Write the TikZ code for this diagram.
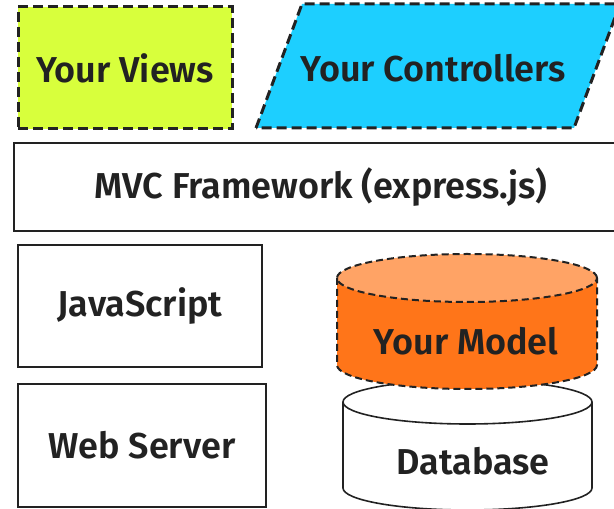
\documentclass[tikz,border=0pt]{standalone}
\usepackage{fontspec}
\setmainfont{Fira Sans}[BoldFont={Fira Sans SemiBold}]
\usepackage{tikz}
\usetikzlibrary{positioning}
\definecolor{viewsgreen}{HTML}{D8FF3C}
\definecolor{ctrlblue}{HTML}{1DCFFF}
\definecolor{modelorange}{HTML}{FF7519}
\definecolor{modeltop}{HTML}{FFA365}
\definecolor{inkgray}{HTML}{222222}

\begin{document}
\begin{tikzpicture}[x=1pt,y=1pt,node distance=139.5pt,on grid,
		every node/.style={font=\fontsize{36}{40}\selectfont\bfseries,text=inkgray},
		layer/.style={rectangle,draw=inkgray,line width=2pt,inner sep=0pt},
		yours/.style={draw=inkgray,line width=3pt,dash pattern=on 10pt off 5pt},
		tag/.style={inner sep=0pt}]
		\useasboundingbox (0,0) rectangle (614,509);
		
		\node[layer,yours,fill=viewsgreen,minimum width=214pt,minimum height=122pt] (views) at (125,441) {Your Views};
		\path[yours,fill=ctrlblue] (256,381) -- (302,505) -- (620,505) -- (574,381) -- cycle;
		\node[tag]    (ctrl)   at (433,441)   {Your Controllers};
		
		\node[layer,minimum width=614pt,minimum height=88pt]  (mvc) at (321,322) {MVC Framework (express.js)};
		\node[layer,minimum width=244pt,minimum height=122pt] (js)  at (140,203) {JavaScript};
		\node[layer,minimum width=248pt,minimum height=123pt] (web) [below=of js,xshift=2pt] {Web Server};
		
		% database
		\path[fill=white] (343,107) -- (343,21) arc[start angle=180,end angle=360,x radius=124.5pt,y radius=22pt]
			-- (592,107) arc[start angle=0,end angle=180,x radius=124.5pt,y radius=22pt] -- cycle;
		\draw[draw=inkgray,line width=1.6pt] (467.5,107) ellipse [x radius=124.5pt,y radius=22pt];
		\draw[draw=inkgray,line width=1.6pt] (343,107) -- (343,21) arc[start angle=180,end angle=360,x radius=124.5pt,y radius=22pt] -- (592,107);
		\node[tag]    (db)     at (473,48)    {Database};
		
		% your model
		\path[fill=modelorange] (337,231) -- (337,144) arc[start angle=180,end angle=360,x radius=130pt,y radius=24pt] -- (597,231) -- cycle;
		\path[fill=modeltop] (467,231) ellipse [x radius=130pt,y radius=24pt];
		\draw[yours,line width=2pt,dash pattern=on 7pt off 4pt] (467,231) ellipse [x radius=130pt,y radius=24pt];
		\draw[yours,line width=2pt,dash pattern=on 7pt off 4pt] (337,231) -- (337,144) arc[start angle=180,end angle=360,x radius=130pt,y radius=24pt] -- (597,231);
		\node[tag]    (model)  at (466,168)   {Your Model};
		
\end{tikzpicture}
\end{document}
